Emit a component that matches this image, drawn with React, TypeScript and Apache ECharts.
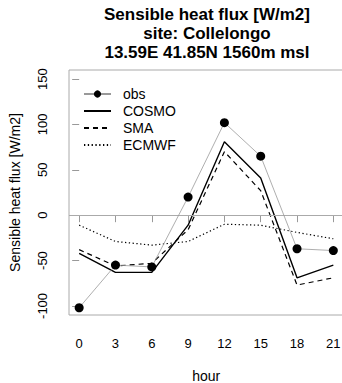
import React, { useEffect, useRef } from "react";
import * as echarts from "echarts";

const hours = [0, 3, 6, 9, 12, 15, 18, 21];
const obs = [-102, -55, -57, 20, 102, 65, -37, -39];
const cosmo = [-42, -63, -63, -11, 81, 41, -69, -55];
const sma = [-38, -56, -53, -16, 70, 27, -77, -69];
const ecmwf = [-11, -29, -33, -29, -10, -11, -19, -26];
const yTicks = [-100, -50, 0, 50, 100, 150];
const titleLines = ["Sensible heat flux [W/m2]", "site: Collelongo", "13.59E 41.85N 1560m msl"];

const FONT = "Liberation Sans, Arial, Helvetica, sans-serif";

export default function App() {
  const ref = useRef<HTMLDivElement>(null);
  useEffect(() => {
    if (!ref.current) return;
    const chart = echarts.init(ref.current, null, { renderer: "svg" });
    const pair = (arr: number[]) => hours.map((h, i) => [h, arr[i]]);
    chart.setOption({
      animation: false,
      backgroundColor: "#fff",
      textStyle: { fontFamily: FONT },
      graphic: titleLines.map((t, i) => ({
        type: "text",
        x: 207,
        y: 14 + i * 19,
        style: {
          text: t,
          textAlign: "center",
          textVerticalAlign: "middle",
          font: `bold 17px ${FONT}`,
          fill: "#000",
        },
      })),
      grid: {
        left: 69,
        top: 70,
        width: 274.5,
        height: 245,
        show: true,
        borderColor: "#aaa",
        borderWidth: 1,
        outerBoundsMode: "none",
        containLabel: false,
      },
      legend: {
        orient: "vertical",
        left: 83,
        top: 87,
        padding: 0,
        itemWidth: 27,
        itemHeight: 9,
        itemGap: 3,
        textStyle: { fontSize: 14, color: "#000", fontFamily: FONT, padding: [0, 0, 0, 7] },
        data: [
          { name: "obs" },
          { name: "COSMO", itemStyle: { opacity: 0 } },
          { name: "SMA", itemStyle: { opacity: 0 } },
          { name: "ECMWF", itemStyle: { opacity: 0 } },
        ],
      },
      xAxis: {
        type: "value",
        min: -0.84,
        max: 21.84,
        name: "hour",
        nameLocation: "middle",
        nameGap: 54,
        nameTextStyle: { fontSize: 14, lineHeight: 14, color: "#000", fontFamily: FONT },
        splitLine: { show: false },
        axisLine: { show: false },
        axisTick: { show: true, length: 7, lineStyle: { color: "#999" }, customValues: hours },
        axisLabel: { fontSize: 13, color: "#000", margin: 22, customValues: hours, fontFamily: FONT },
      },
      yAxis: {
        type: "value",
        min: -110,
        max: 160,
        name: "Sensible heat flux [W/m2]",
        nameLocation: "middle",
        nameGap: 47,
        nameTextStyle: { fontSize: 14, color: "#000", fontFamily: FONT },
        splitLine: { show: false },
        axisLine: { show: false },
        axisTick: { show: true, length: 7, lineStyle: { color: "#999" }, customValues: yTicks },
        axisLabel: {
          fontSize: 13,
          color: "#000",
          margin: 20,
          rotate: 90,
          align: "center",
          verticalAlign: "bottom",
          customValues: yTicks,
          fontFamily: FONT,
        },
      },
      series: [
        {
          name: "obs",
          type: "line",
          data: pair(obs),
          symbol: "circle",
          symbolSize: 9,
          itemStyle: { color: "#000" },
          lineStyle: { color: "#999", width: 0.8 },
          z: 5,
          markLine: {
            silent: true,
            symbol: ["none", "none"],
            label: { show: false },
            lineStyle: { color: "#aaa", type: "solid", width: 1 },
            data: [{ yAxis: 0 }],
          },
        },
        {
          name: "COSMO",
          type: "line",
          data: pair(cosmo),
          symbol: "none",
          itemStyle: { color: "#000" },
          lineStyle: { color: "#000", width: 1.4 },
        },
        {
          name: "SMA",
          type: "line",
          data: pair(sma),
          symbol: "none",
          itemStyle: { color: "#000" },
          lineStyle: { color: "#000", width: 1.2, type: [5, 4] },
        },
        {
          name: "ECMWF",
          type: "line",
          data: pair(ecmwf),
          symbol: "none",
          itemStyle: { color: "#000" },
          lineStyle: { color: "#000", width: 1.2, type: [1.3, 2.5] },
        },
      ],
    });
    return () => chart.dispose();
  }, []);
  return <div ref={ref} style={{ width: 342, height: 383, position: "absolute", left: 0, top: 0 }} />;
}
